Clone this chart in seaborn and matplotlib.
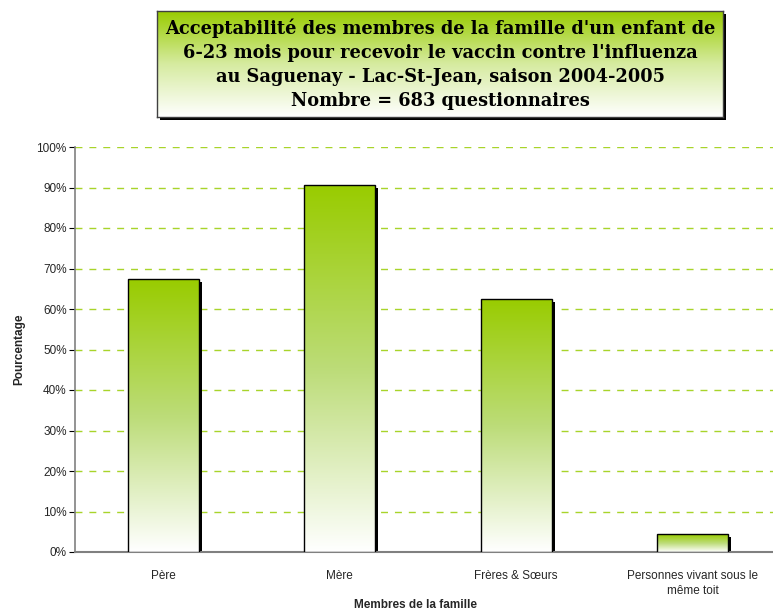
import numpy as np
import pandas as pd
import matplotlib
matplotlib.use("Agg")
import matplotlib.pyplot as plt
import matplotlib.transforms as mtransforms
from matplotlib.colors import LinearSegmentedColormap
from matplotlib.patches import Rectangle
import seaborn as sns

# Data
membres = ["Père", "Mère", "Frères & Sœurs", "Personnes vivant sous le\nmême toit"]
pourcentages = [67.4, 90.6, 62.5, 4.4]
y_ticks = [0, 10, 20, 30, 40, 50, 60, 70, 80, 90, 100]

titre = ("Acceptabilité des membres de la famille d'un enfant de\n"
         "6-23 mois pour recevoir le vaccin contre l'influenza\n"
         "au Saguenay - Lac-St-Jean, saison 2004-2005\n"
         "Nombre = 683 questionnaires")

df = pd.DataFrame({"membre": membres, "pct": pourcentages})

sns.set_style("white")
plt.rcParams["font.family"] = ["Liberation Sans", "DejaVu Sans"]

green = "#99CC00"
# bars keep their green a bit longer before fading to white
grad_cmap = LinearSegmentedColormap.from_list(
    "vert", [(0.0, "#ffffff"), (0.5, "#bcdc78"), (1.0, green)])
gradient = np.linspace(0, 1, 256).reshape(-1, 1)

fig = plt.figure(figsize=(7.73, 6.15), dpi=100)
ax = fig.add_axes([75 / 773, 1 - 552 / 615, 706 / 773, 405 / 615])

sns.barplot(data=df, x="membre", y="pct", ax=ax, width=0.4,
            color="white", edgecolor="black", linewidth=1, zorder=3)

# gradient fill + drop shadow for every bar
shadow_tr = mtransforms.offset_copy(ax.transData, fig=fig, x=3, y=-3, units="dots")
for p in list(ax.patches):
    x0, y0 = p.get_x(), p.get_y()
    w, h = p.get_width(), p.get_height()
    ax.add_patch(Rectangle((x0, y0), w, h, transform=shadow_tr,
                           facecolor="black", edgecolor="none", zorder=2))
    im = ax.imshow(gradient, cmap=grad_cmap, origin="lower", aspect="auto",
                   extent=[x0, x0 + w, y0, y0 + h], zorder=3.5, interpolation="bilinear")
    im.set_clip_path(p)
    p.set_facecolor("none")
    p.set_zorder(4)

ax.set_xlim(-0.5, len(membres) - 0.5)
ax.set_ylim(0, 100)

# grid
ax.set_yticks(y_ticks)
ax.set_yticklabels([f"{t}%" for t in y_ticks], fontsize=8.5)
for t in y_ticks[1:]:
    ax.axhline(t, color="#a8d42a", linestyle=(0, (5, 5)), linewidth=1, zorder=1)

# category ticks between groups
ax.set_xticks(range(len(membres)))
ax.set_xticklabels(membres, fontsize=8.5, linespacing=1.35)
ax.set_xticks(np.arange(-0.5, len(membres), 1), minor=True)
ax.tick_params(axis="x", which="major", length=0, pad=13)
ax.tick_params(axis="x", which="minor", length=5, color="black", direction="out")
ax.tick_params(axis="y", length=4, color="black", direction="out", left=True, pad=2)

for s in ["top", "right"]:
    ax.spines[s].set_visible(False)
ax.spines["left"].set_color("#808080")
ax.spines["bottom"].set_color("#808080")
ax.spines["left"].set_linewidth(1.2)
ax.spines["bottom"].set_linewidth(1.5)

ax.set_xlabel("")
ax.set_ylabel("Pourcentage", fontsize=8.5, fontweight="bold", labelpad=8)
fig.text(416 / 773, 1 - 605 / 615, "Membres de la famille", fontsize=8.5,
         fontweight="bold", ha="center", va="center")

# title box with gradient and shadow
bx0, by0, bw, bh = 157 / 773, 1 - 117 / 615, 566 / 773, 106 / 615
fig.patches.append(Rectangle((bx0 + 3 / 773, by0 - 3 / 615), bw, bh,
                             transform=fig.transFigure, facecolor="black",
                             edgecolor="none", zorder=1))
tax = fig.add_axes([bx0, by0, bw, bh], zorder=2)
tax.imshow(gradient, cmap=LinearSegmentedColormap.from_list("t", ["#ffffff", "#d6eba0", green]),
           origin="lower", aspect="auto", extent=[0, 1, 0, 1], interpolation="bilinear")
tax.set_xticks([])
tax.set_yticks([])
for s in tax.spines.values():
    s.set_color("#404040")
    s.set_linewidth(1)
tax.text(0.5, 0.5, titre, ha="center", va="center", fontsize=12.8,
         fontweight="bold", family="DejaVu Serif", linespacing=1.42,
         color="black", transform=tax.transAxes)

fig.savefig("out.png", dpi=100)
